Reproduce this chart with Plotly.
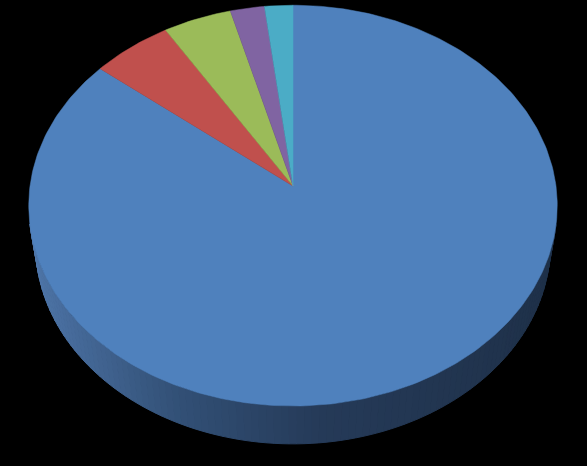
import numpy as np
import plotly.graph_objects as go

# ---- data ----
categories = ["Category 1", "Category 2", "Category 3", "Category 4", "Category 5"]
values = [85.8, 5.4, 4.6, 2.3, 1.9]
slice_colors = ["#4f81bd", "#c0504d", "#9bbb59", "#8064a2", "#4bacc6"]

# ---- view / style ----
W, H = 587, 466
CX, CY = 293, 186          # projected pie centre (pixels)
F = 1762                   # focal length (pixels)
PHI = np.radians(49)       # elevation of the view
DIST = 6.7                 # camera distance in pie radii
THICK = 0.238              # pie thickness in pie radii
s, c = np.sin(PHI), np.cos(PHI)

# side-wall shading stops (left -> right)
wall_stops = [(0.0, (80, 120, 172)), (0.3, (50, 80, 118)),
              (0.55, (37, 58, 88)), (1.0, (30, 48, 72))]


def project(theta, z):
    X = np.sin(theta)
    Y = np.cos(theta)
    yc = Y * s + z * c
    zc = DIST + Y * c - z * s
    return CX + F * X / zc, CY - F * yc / zc


def wall_color(xn):
    for (t0, c0), (t1, c1) in zip(wall_stops[:-1], wall_stops[1:]):
        if xn <= t1:
            k = (xn - t0) / (t1 - t0)
            rgb = [round(a + (b - a) * k) for a, b in zip(c0, c1)]
            return "rgb(%d,%d,%d)" % tuple(rgb)
    return "rgb(%d,%d,%d)" % wall_stops[-1][1]


fracs = np.array(values) / np.sum(values)
ends = np.cumsum(fracs) * 2 * np.pi
starts = ends - fracs * 2 * np.pi

fig = go.Figure()

# side walls (visible front part)
vis_lim = -1.0 / (DIST * c)
for i, (a, b) in enumerate(zip(starts, ends)):
    n = max(2, int(np.degrees(b - a) / 1.5))
    ts = np.linspace(a, b, n + 1)
    for t0, t1 in zip(ts[:-1], ts[1:]):
        tm = 0.5 * (t0 + t1)
        if np.cos(tm) >= vis_lim + 0.05:
            continue
        x0, y0 = project(t0, 0)
        x1, y1 = project(t1, 0)
        x2, y2 = project(t1, -THICK)
        x3, y3 = project(t0, -THICK)
        col = wall_color((np.sin(tm) + 1) / 2)
        fig.add_trace(go.Scatter(
            x=[x0, x1, x2, x3, x0], y=[y0, y1, y2, y3, y0],
            fill="toself", fillcolor=col, mode="lines",
            line=dict(color=col, width=1), hoverinfo="skip",
            showlegend=False))

# top faces
for i, (a, b) in enumerate(zip(starts, ends)):
    n = max(4, int(np.degrees(b - a)))
    ts = np.linspace(a, b, n + 1)
    ax, ay = project(ts, 0)
    xs = np.concatenate([[CX], ax, [CX]])
    ys = np.concatenate([[CY], ay, [CY]])
    fig.add_trace(go.Scatter(
        x=xs, y=ys, fill="toself", fillcolor=slice_colors[i], mode="lines",
        line=dict(color=slice_colors[i], width=0.5),
        name=categories[i], hoveron="fills",
        text="%s: %.1f" % (categories[i], values[i]), hoverinfo="text",
        showlegend=False))

fig.update_layout(
    width=W, height=H, margin=dict(l=0, r=0, t=0, b=0),
    paper_bgcolor="black", plot_bgcolor="black",
    xaxis=dict(range=[0, W], visible=False, fixedrange=True),
    yaxis=dict(range=[H, 0], visible=False, fixedrange=True),
    showlegend=False,
)
fig.write_html(
    "out.html",
    config={"displayModeBar": False},
    post_script="document.body.style.margin='0';"
                "document.body.style.background='black';"
                "document.body.style.overflow='hidden';",
)
